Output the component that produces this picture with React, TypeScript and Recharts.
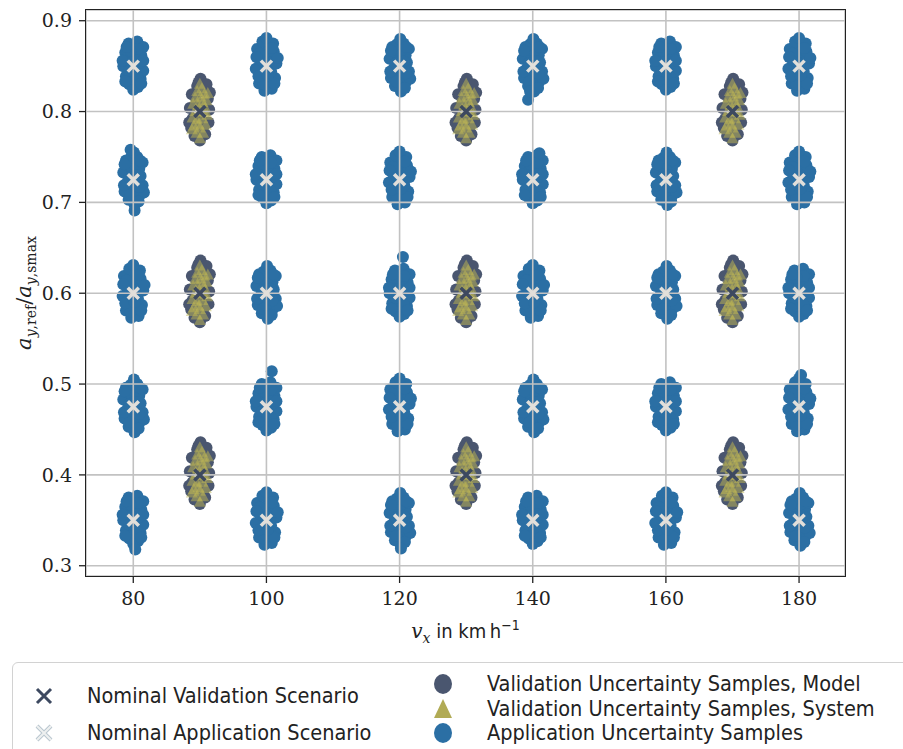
import { ScatterChart, Scatter, XAxis, YAxis, CartesianGrid } from 'recharts'

// axis ranges and ticks
const XMIN = 72.9
const XMAX = 186.9
const YMIN = 0.2887
const YMAX = 0.9118
const xTicks = [80, 100, 120, 140, 160, 180]
const yTicks = [0.3, 0.4, 0.5, 0.6, 0.7, 0.8, 0.9]

// nominal scenarios
const appSpeeds = [80, 100, 120, 140, 160, 180]
const appRatios = [0.35, 0.475, 0.6, 0.725, 0.85]
const valSpeeds = [90, 130, 170]
const valRatios = [0.4, 0.6, 0.8]

// sample spread around each nominal point (dx in km/h, dy in ratio)
const appShapeA = [
  [0, -0.026], [0.7, -0.023], [-0.6, -0.020], [1.1, -0.014], [-1.1, -0.011], [0, -0.014],
  [1.5, -0.005], [-1.5, 0.0], [0, -0.005], [0.8, 0.003], [-0.7, 0.006], [0, 0.011],
  [1.2, 0.012], [-1.2, 0.015], [0.5, 0.019], [-0.4, 0.023], [0.6, 0.027], [-0.7, 0.025],
  [1.5, 0.021], [-1.6, 0.006], [0.6, -0.012], [-0.6, -0.005], [0.7, 0.019], [-0.4, 0.017],
  [1.2, -0.019], [-1.2, -0.017], [1.5, 0.006], [-1.0, 0.021],
]
const appShapeB = [
  [0.2, -0.028], [-0.7, -0.022], [0.9, -0.018], [-1.3, -0.013], [0.1, -0.012], [1.4, -0.006],
  [-0.9, -0.003], [0.3, -0.001], [1.1, 0.004], [-1.5, 0.008], [-0.2, 0.008], [0.9, 0.012],
  [-0.8, 0.016], [0.2, 0.017], [1.4, 0.019], [-0.4, 0.024], [0.6, 0.025], [-1.1, 0.021],
  [0.1, 0.030], [1.6, -0.014], [-0.5, -0.017], [0.8, -0.024], [-1.4, -0.006], [0.6, 0.005],
  [-0.6, 0.003], [1.0, 0.021], [-1.3, 0.017], [0.9, -0.008],
]
const appShapeC = [
  [-0.3, -0.027], [0.8, -0.025], [-1.1, -0.019], [0.3, -0.017], [1.3, -0.013], [-0.6, -0.010],
  [-1.6, -0.003], [0.7, -0.006], [0, 0.0], [1.5, 0.003], [-1.0, 0.007], [0.5, 0.009],
  [-0.2, 0.015], [1.1, 0.016], [-1.4, 0.019], [0.3, 0.022], [-0.6, 0.027], [1.0, 0.025],
  [0, 0.031], [1.7, 0.009], [-0.4, -0.020], [1.2, -0.019], [-1.2, -0.011], [-0.5, 0.005],
  [0.8, 0.020], [-1.0, 0.014], [0.2, -0.010], [-1.5, 0.010],
]
const appShapes = [appShapeA, appShapeB, appShapeC]
// which spread each application cluster shows (rows: speed, cols: ratio)
const appShapeIdx = [
  [0, 1, 2, 1, 0],
  [2, 0, 1, 0, 2],
  [1, 2, 0, 2, 1],
  [0, 1, 2, 0, 1],
  [2, 0, 1, 1, 0],
  [1, 2, 0, 2, 2],
]
const appOutliers = [
  [120.5, 0.64], [139.3, 0.813], [139.6, 0.822], [100.8, 0.514], [180.3, 0.51],
  [79.6, 0.758], [80.2, 0.691], [141, 0.754], [80.3, 0.318], [120.2, 0.319],
]

const modelShape = [
  [0, -0.032], [-0.8, -0.027], [0.8, -0.025], [-1.3, -0.018], [0.2, -0.020], [1.3, -0.012],
  [-1.1, -0.008], [0, -0.008], [1.4, 0.002], [-1.5, 0.004], [0.5, 0.006], [-0.5, 0.012],
  [1.2, 0.014], [-1.2, 0.019], [0.4, 0.022], [-0.4, 0.028], [0.8, 0.027], [0.1, 0.036],
  [-0.2, 0.032], [-1.6, -0.012], [1.5, 0.021], [0.6, -0.016], [-0.5, -0.014], [1.0, 0.030],
]
const systemShape = [
  [0, -0.030], [-0.5, -0.024], [0.5, -0.024], [-0.9, -0.016], [0, -0.018], [0.9, -0.015],
  [-1.1, -0.007], [-0.4, -0.009], [0.4, -0.008], [1.1, -0.004], [-0.7, 0.0], [0.1, 0.0],
  [0.8, 0.004], [-1.0, 0.008], [-0.3, 0.007], [0.4, 0.010], [1.0, 0.012], [-0.7, 0.015],
  [0.1, 0.016], [0.7, 0.019], [-0.4, 0.022], [0.3, 0.025], [0, 0.030], [-1.2, -0.020],
  [1.2, 0.020], [0.6, -0.001], [-0.2, -0.014],
]

const BLUE = '#2b6fa4'
const SLATE = '#4a566f'
const OLIVE = '#bdb654'
const DARK_X = '#3d4960'
const LIGHT_X = '#e2dfda'

type Pt = { x: number; y: number }

const nominalApp: Pt[] = appSpeeds.flatMap((x) => appRatios.map((y) => ({ x, y })))
const nominalVal: Pt[] = valSpeeds.flatMap((x) => valRatios.map((y) => ({ x, y })))

const appSamples: Pt[] = [
  ...appSpeeds.flatMap((x, i) =>
    appRatios.flatMap((y, j) => appShapes[appShapeIdx[i][j]].map(([dx, dy]) => ({ x: x + dx, y: y + dy })))
  ),
  ...appOutliers.map(([x, y]) => ({ x, y })),
]
const modelSamples: Pt[] = nominalVal.flatMap((p) => modelShape.map(([dx, dy]) => ({ x: p.x + dx, y: p.y + dy })))
const systemSamples: Pt[] = nominalVal.flatMap((p) => systemShape.map(([dx, dy]) => ({ x: p.x + dx, y: p.y + dy })))

const Dot = (color: string, r: number) => (props: any) => (
  <circle cx={props.cx} cy={props.cy} r={r} fill={color} />
)
const Tri = (props: any) => (
  <polygon
    points={`${props.cx},${props.cy - 6.5} ${props.cx - 6},${props.cy + 4.5} ${props.cx + 6},${props.cy + 4.5}`}
    fill={OLIVE}
    fillOpacity={0.5}
  />
)
const Cross = (color: string, s: number, w: number) => (props: any) => (
  <path
    d={`M${props.cx - s},${props.cy - s}L${props.cx + s},${props.cy + s}M${props.cx - s},${props.cy + s}L${props.cx + s},${props.cy - s}`}
    stroke={color}
    strokeWidth={w}
    fill="none"
  />
)

const SERIF = "'DejaVu Serif', serif"
const SANS = "'Liberation Sans Narrow', 'DejaVu Sans Condensed', 'Open Sans', sans-serif"

function XLabel({ viewBox }: any) {
  const cx = viewBox.x + viewBox.width / 2
  return (
    <text x={cx} y={viewBox.y + 62} textAnchor="middle" fontSize={20} fill="#222">
      <tspan fontFamily={SERIF} fontStyle="italic">v</tspan>
      <tspan fontFamily={SERIF} fontStyle="italic" fontSize={14} dy={5}>x</tspan>
      <tspan fontFamily={SANS} dy={-5}>{' in km\u2009h'}</tspan>
      <tspan fontFamily={SANS} fontSize={14} dy={-8}>{'\u22121'}</tspan>
    </text>
  )
}

function YLabel({ viewBox }: any) {
  const cy = viewBox.y + viewBox.height / 2
  return (
    <text transform={`translate(31, ${cy}) rotate(-90)`} textAnchor="middle" fontSize={21} fill="#222" fontFamily={SERIF}>
      <tspan fontStyle="italic">a</tspan>
      <tspan fontSize={14} dy={5}><tspan fontStyle="italic">y</tspan>,ref</tspan>
      <tspan dy={-5}>/</tspan>
      <tspan fontStyle="italic">a</tspan>
      <tspan fontSize={14} dy={5}><tspan fontStyle="italic">y</tspan>,smax</tspan>
    </text>
  )
}

function LegendIcon({ kind }: { kind: string }) {
  return (
    <svg width={22} height={22} style={{ position: 'absolute', left: -11, top: -11 }}>
      {kind === 'darkX' && <path d="M4,4L18,18M4,18L18,4" stroke={DARK_X} strokeWidth={3} />}
      {kind === 'lightX' && (
        <g>
          <path d="M4,4L18,18M4,18L18,4" stroke="#b9c6cf" strokeWidth={4} />
          <path d="M4,4L18,18M4,18L18,4" stroke="#eef0f0" strokeWidth={2} />
        </g>
      )}
      {kind === 'model' && <ellipse cx={11} cy={11} rx={9} ry={10} fill={SLATE} />}
      {kind === 'system' && <polygon points="11,1 2,20 20,20" fill="#b1ab55" />}
      {kind === 'app' && <ellipse cx={11} cy={11} rx={9} ry={10} fill={BLUE} />}
    </svg>
  )
}

const legendItems = [
  { kind: 'darkX', label: 'Nominal Validation Scenario', x: 44, y: 696, tx: 87 },
  { kind: 'lightX', label: 'Nominal Application Scenario', x: 44, y: 733, tx: 87 },
  { kind: 'model', label: 'Validation Uncertainty Samples, Model', x: 443, y: 684, tx: 487 },
  { kind: 'system', label: 'Validation Uncertainty Samples, System', x: 443, y: 708.5, tx: 487 },
  { kind: 'app', label: 'Application Uncertainty Samples', x: 443, y: 733, tx: 487 },
]

export default function App() {
  return (
    <div style={{ position: 'absolute', left: 0, top: 0, width: 903, height: 749, overflow: 'hidden', background: '#fff' }}>
      <ScatterChart width={903} height={660} margin={{ top: 10, right: 58, bottom: 0, left: 0 }}>
        <XAxis
          type="number"
          dataKey="x"
          domain={[XMIN, XMAX]}
          ticks={xTicks}
          allowDataOverflow
          height={84}
          axisLine={false}
          tickSize={7}
          tickMargin={9}
          tickLine={{ stroke: '#222', strokeWidth: 1.3 }}
          tick={{ fill: '#222', fontSize: 19, fontFamily: SERIF }}
          label={<XLabel />}
        />
        <YAxis
          type="number"
          dataKey="y"
          domain={[YMIN, YMAX]}
          ticks={yTicks}
          allowDataOverflow
          width={86}
          axisLine={false}
          tickSize={7}
          tickMargin={7}
          tickFormatter={(v: number) => v.toFixed(1)}
          tickLine={{ stroke: '#222', strokeWidth: 1.3 }}
          tick={{ fill: '#222', fontSize: 19, fontFamily: SERIF }}
          label={<YLabel />}
        />
        <Scatter data={appSamples} shape={Dot(BLUE, 6)} isAnimationActive={false} />
        <Scatter data={modelSamples} shape={Dot(SLATE, 6)} isAnimationActive={false} />
        <Scatter data={systemSamples} shape={Tri} isAnimationActive={false} />
        <CartesianGrid stroke="#c2c2c2" strokeWidth={1.6} zIndex={650} />
        <Scatter data={nominalVal} shape={Cross(DARK_X, 5.5, 3.5)} isAnimationActive={false} zIndex={700} />
        <Scatter data={nominalApp} shape={Cross(LIGHT_X, 5.5, 3.5)} isAnimationActive={false} zIndex={700} />
      </ScatterChart>
      {/* axes frame */}
      <div
        style={{
          position: 'absolute', left: 85.3, top: 9.3, width: 760.7, height: 567.4,
          border: '1.4px solid #222', boxSizing: 'border-box', pointerEvents: 'none',
        }}
      />
      <div
        style={{
          position: 'absolute', left: 12, top: 662, width: 910, height: 120,
          border: '1.5px solid #d2d2d2', borderRadius: 6, boxSizing: 'border-box',
        }}
      />
      {legendItems.map((it) => (
        <div key={it.label}>
          <div style={{ position: 'absolute', left: it.x, top: it.y }}>
            <LegendIcon kind={it.kind} />
          </div>
          <div
            style={{
              position: 'absolute', left: it.tx, top: it.y - 11, fontFamily: SANS, fontSize: 21.5,
              lineHeight: '22px', color: '#222', whiteSpace: 'nowrap',
            }}
          >
            {it.label}
          </div>
        </div>
      ))}
    </div>
  )
}
